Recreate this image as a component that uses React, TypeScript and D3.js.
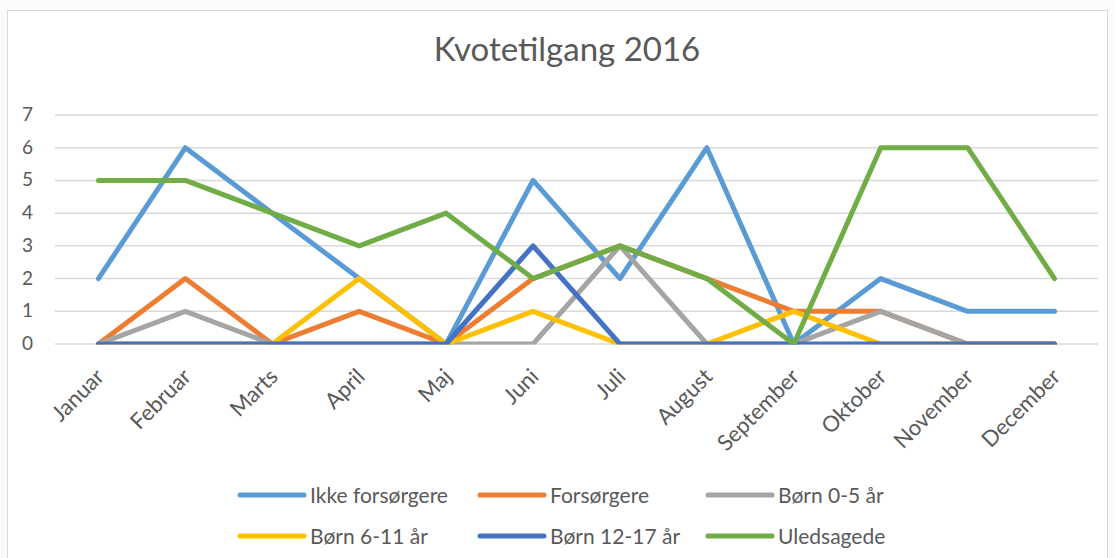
import React, { useEffect, useRef } from 'react';
import * as d3 from 'd3';

const months = ['Januar', 'Februar', 'Marts', 'April', 'Maj', 'Juni', 'Juli', 'August', 'September', 'Oktober', 'November', 'December'];
const seriesNames = ['Ikke forsørgere', 'Forsørgere', 'Børn 0-5 år', 'Børn 6-11 år', 'Børn 12-17 år', 'Uledsagede'];
const seriesColors = ['#5b9bd5', '#ed7d31', '#a5a5a5', '#ffc000', '#4472c4', '#70ad47'];

const ikkeForsorgere = [2, 6, 4, 2, 0, 5, 2, 6, 0, 2, 1, 1];
const forsorgere = [0, 2, 0, 1, 0, 2, 3, 2, 1, 1, 0, 0];
const born05 = [0, 1, 0, 0, 0, 0, 3, 0, 0, 1, 0, 0];
const born611 = [0, 0, 0, 2, 0, 1, 0, 0, 1, 0, 0, 0];
const born1217 = [0, 0, 0, 0, 0, 3, 0, 0, 0, 0, 0, 0];
const uledsagede = [5, 5, 4, 3, 4, 2, 3, 2, 0, 6, 6, 2];
const yTicks = [0, 1, 2, 3, 4, 5, 6, 7];

const allSeries = [ikkeForsorgere, forsorgere, born05, born611, born1217, uledsagede];

const App = () => {
  const ref = useRef<SVGSVGElement>(null);

  useEffect(() => {
    const width = 1115;
    const height = 558;
    const left = 55;
    const right = 1098;
    const top = 115;
    const bottom = 344;
    const font = 'Lato, "Open Sans", sans-serif';

    const svg = d3.select(ref.current);
    svg.selectAll('*').remove();

    svg.append('rect').attr('width', width).attr('height', height).attr('fill', '#fcfbf9');
    svg.append('rect')
      .attr('x', 7.5).attr('y', 10.5).attr('width', 1100).attr('height', 560)
      .attr('fill', '#ffffff').attr('stroke', '#d9d9d9').attr('stroke-width', 1);

    svg.append('defs').append('clipPath').attr('id', 'plot-clip')
      .append('rect').attr('x', 0).attr('y', 0).attr('width', width).attr('height', bottom + 0.5);

    svg.append('text')
      .attr('x', 567).attr('y', 61)
      .attr('text-anchor', 'middle')
      .style('font-family', font).style('font-size', '33px').attr('fill', '#595959')
      .text('Kvotetilgang 2016');

    const x = d3.scaleBand().domain(months).range([left, right]).padding(0);
    const y = d3.scaleLinear().domain([0, 7]).range([bottom, top]);

    // gridlines
    svg.append('g').selectAll('line').data(yTicks).enter().append('line')
      .attr('x1', left).attr('x2', right)
      .attr('y1', d => y(d)).attr('y2', d => y(d))
      .attr('stroke', '#d9d9d9').attr('stroke-width', 1.5);

    svg.append('g').selectAll('text').data(yTicks).enter().append('text')
      .attr('x', 33).attr('y', d => y(d) + 6)
      .attr('text-anchor', 'end')
      .style('font-family', font).style('font-size', '19px').attr('fill', '#595959')
      .text(d => d);

    svg.append('g').selectAll('text').data(months).enter().append('text')
      .attr('transform', d => 'translate(' + (x(d)! + x.bandwidth() / 2 + 7) + ',' + (bottom + 34) + ') rotate(-45)')
      .attr('text-anchor', 'end')
      .style('font-family', font).style('font-size', '22px').attr('fill', '#595959')
      .text(d => d);

    const line = d3.line<number>()
      .x((d, i) => x(months[i])! + x.bandwidth() / 2)
      .y(d => y(d));

    const plot = svg.append('g').attr('clip-path', 'url(#plot-clip)');
    allSeries.forEach((s, i) => {
      plot.append('path')
        .datum(s)
        .attr('d', line)
        .attr('fill', 'none')
        .attr('stroke', seriesColors[i])
        .attr('stroke-width', 5)
        .attr('stroke-linejoin', 'round')
        .attr('stroke-linecap', 'round');
    });

    const legendX = [240, 480, 708];
    const legendY = [495, 536];
    const legend = svg.append('g').selectAll('g').data(seriesNames).enter().append('g')
      .attr('transform', (d, i) => 'translate(' + legendX[i % 3] + ',' + legendY[Math.floor(i / 3)] + ')');
    legend.append('line')
      .attr('x1', 0).attr('x2', 64).attr('y1', 0).attr('y2', 0)
      .attr('stroke', (d, i) => seriesColors[i])
      .attr('stroke-width', 5).attr('stroke-linecap', 'round');
    legend.append('text')
      .attr('x', 70).attr('y', 8)
      .style('font-family', font).style('font-size', '21px').attr('fill', '#595959')
      .text(d => d);
  }, []);

  return <svg ref={ref} width={1115} height={558} style={{ position: 'absolute', left: 0, top: 0 }} />;
};

export default App;
